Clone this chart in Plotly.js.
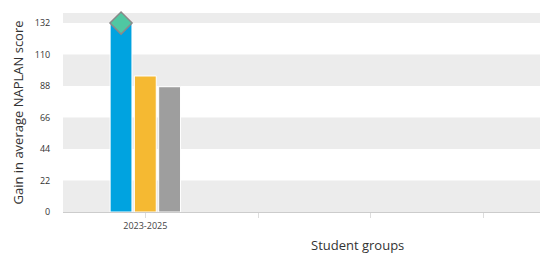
<!DOCTYPE html>
<html><head><meta charset="utf-8">
<script src="https://cdn.plot.ly/plotly-3.0.1.min.js"></script>
<style>html,body{margin:0;padding:0;background:#fff;}#chart{width:540px;height:253px;}</style>
</head><body><div id="chart"></div>
<script>
// Data
const groups = ['2023-2025', '', '', ''];
const seriesA = [132];    // blue
const seriesB = [95];     // yellow
const seriesC = [87.5];   // gray
const markerValues = [132];
const yTicks = [0, 22, 44, 66, 88, 110, 132];

const bargap = 0.354;
const xs = seriesA.map((_, i) => i);
const groupW = 1 - bargap;

const traces = [
  {type:'bar', x: xs, y: seriesA, marker:{color:'#00a3e0', line:{color:'#ffffff', width:1}}, hoverinfo:'y'},
  {type:'bar', x: xs, y: seriesB, marker:{color:'#f5b932', line:{color:'#ffffff', width:1}}, hoverinfo:'y'},
  {type:'bar', x: xs, y: seriesC, marker:{color:'#9e9e9e', line:{color:'#ffffff', width:1}}, hoverinfo:'y'},
  {type:'scatter', mode:'markers', x: xs.map(x => x - groupW/3), y: markerValues,
   marker:{symbol:'diamond', size:17, color:'#4fc8a2', line:{color:'#8a8a8a', width:1.5}}, hoverinfo:'y', cliponaxis:false}
];

// Alternating background bands derived from tick values
const yMax = 139;
const edges = yTicks.concat([yMax]);
const shapes = [];
for (let i = 0; i < edges.length - 1; i++) {
  if (i % 2 === 0) {
    shapes.push({type:'rect', xref:'paper', yref:'y', x0:0, x1:1, y0:edges[i], y1:edges[i+1],
      fillcolor:'#ececec', line:{width:0}, layer:'below'});
  }
}

const layout = {
  width:540, height:253,
  margin:{l:63, r:0, t:13, b:41},
  paper_bgcolor:'#ffffff', plot_bgcolor:'#ffffff',
  font:{family:'"Open Sans", "Noto Sans", sans-serif', color:'#333333'},
  showlegend:false,
  barmode:'group', bargap: bargap, bargroupgap:0.1,
  xaxis:{
    range:[-0.73, 3.5], tickmode:'array', tickvals: groups.map((_, i) => i), ticktext: groups,
    ticks:'outside', ticklen:5, tickcolor:'#dddddd', tickwidth:1,
    tickfont:{size:9, color:'#444444'},
    showgrid:false, zeroline:false, showline:true, linecolor:'#cccccc', linewidth:1,
    fixedrange:true
  },
  yaxis:{
    range:[0, yMax], tickmode:'array', tickvals: yTicks,
    ticks:'outside', ticklen:10, tickcolor:'rgba(0,0,0,0)',
    tickfont:{size:9, color:'#333333'},
    showgrid:false, zeroline:false, showline:false,
    title:{text:'Gain in average NAPLAN score', font:{size:13, color:'#333333'}, standoff:8},
    fixedrange:true
  },
  shapes: shapes,
  annotations:[{text:'Student groups', xref:'paper', yref:'paper', x:0.617, y:0, yshift:-33,
    xanchor:'center', yanchor:'middle', showarrow:false, font:{size:13, color:'#333333'}}]
};

Plotly.newPlot('chart', traces, layout, {displayModeBar:false, staticPlot:true});
</script></body></html>
